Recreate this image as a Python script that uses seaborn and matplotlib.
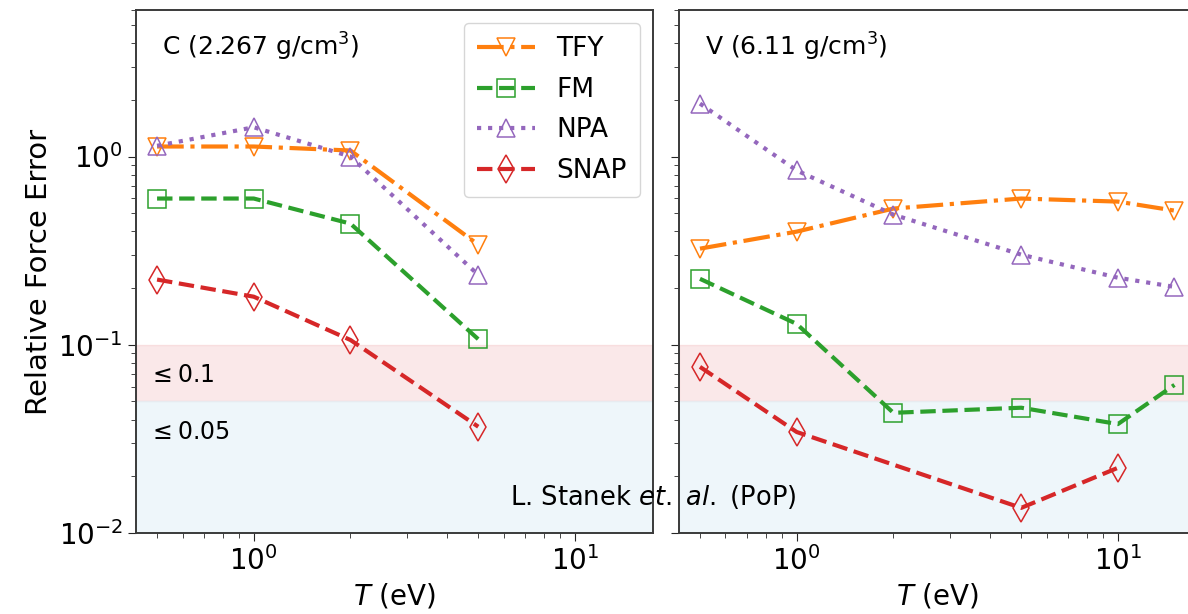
import matplotlib
matplotlib.use("Agg")
import matplotlib.pyplot as plt
import numpy as np
import pandas as pd
import seaborn as sns

sns.set_style("ticks")
plt.rcParams["font.family"] = ["DejaVu Sans"]
plt.rcParams["mathtext.fontset"] = "dejavusans"
plt.rcParams["text.color"] = "black"
plt.rcParams["axes.labelcolor"] = "black"
plt.rcParams["xtick.labelcolor"] = "black"
plt.rcParams["ytick.labelcolor"] = "black"
plt.rcParams["axes.edgecolor"] = "#3a3a3a"
plt.rcParams["axes.linewidth"] = 1.4

# ---- data ----
methods = ["TFY", "FM", "NPA", "SNAP"]

c_T = [0.5, 1.0, 2.0, 5.0]
c_tfy = [1.13, 1.13, 1.076, 0.34]
c_fm = [0.598, 0.598, 0.44, 0.107]
c_npa = [1.14, 1.43, 1.0, 0.235]
c_snap = [0.222, 0.18, 0.106, 0.0367]

v_T = [0.5, 1.0, 2.0, 5.0, 10.0, 15.0]
v_tfy = [0.324, 0.399, 0.529, 0.598, 0.576, 0.516]
v_fm = [0.224, 0.129, 0.0435, 0.0463, 0.0379, 0.0612]
v_npa = [1.91, 0.843, 0.491, 0.301, 0.227, 0.203]
v_snap_T = [0.5, 1.0, 5.0, 10.0]
v_snap = [0.0763, 0.0344, 0.0136, 0.0222]

panel_titles = ["C (2.267 g/cm$^3$)", "V (6.11 g/cm$^3$)"]

# ---- styles ----
styles = {
    "TFY": dict(color="tab:orange", ls="-.", marker="v"),
    "FM": dict(color="tab:green", ls="--", marker="s"),
    "NPA": dict(color="tab:purple", ls=":", marker="^"),
    "SNAP": dict(color="tab:red", ls="--", marker="d"),
}

c_data = {"TFY": (c_T, c_tfy), "FM": (c_T, c_fm), "NPA": (c_T, c_npa), "SNAP": (c_T, c_snap)}
v_data = {"TFY": (v_T, v_tfy), "FM": (v_T, v_fm), "NPA": (v_T, v_npa), "SNAP": (v_snap_T, v_snap)}

fig = plt.figure(figsize=(11.88, 6.14), dpi=100)
ax_c = fig.add_axes([0.1145, 0.1319, 0.4352, 0.8518])
ax_v = fig.add_axes([0.5715, 0.1319, 0.4352, 0.8518], sharey=ax_c)

for ax, data, title in [(ax_c, c_data, panel_titles[0]), (ax_v, v_data, panel_titles[1])]:
    ax.axhspan(0.05, 0.1, color="tab:red", alpha=0.1, zorder=0)
    ax.axhspan(0.001, 0.05, color="#e3f1f7", alpha=0.6, zorder=0)
    for m in methods:
        x, y = data[m]
        df = pd.DataFrame({"T": x, "err": y})
        st = styles[m]
        sns.lineplot(data=df, x="T", y="err", ax=ax, color=st["color"],
                     linestyle=st["ls"], linewidth=3, marker=st["marker"],
                     markersize=13 if m != "SNAP" else 14, markerfacecolor="none",
                     markeredgecolor=st["color"], markeredgewidth=1.1, label=m,
                     legend=False)
    ax.set_xscale("log")
    ax.set_yscale("log")
    ax.set_xlim(0.43, 17.5)
    ax.set_ylim(0.01, 6.0)
    ax.set_xlabel("$T$ (eV)", fontsize=20)
    ax.tick_params(axis="both", which="major", labelsize=20, length=6)
    ax.tick_params(axis="both", which="minor", length=3.5)
    ax.text(0.05, 0.93, title, transform=ax.transAxes, fontsize=18, va="center")

ax_c.set_ylabel("Relative Force Error", fontsize=21)
ax_v.set_ylabel("")
ax_v.tick_params(axis="y", which="both", labelleft=False)

ax_c.text(0.47, 0.069, r"$\leq$0.1", fontsize=17, va="center")
ax_c.text(0.47, 0.0344, r"$\leq$0.05", fontsize=17, va="center")

ax_c.legend(loc="upper right", fontsize=19, handlelength=2.2, borderpad=0.5,
            labelspacing=0.55)

fig.text(0.55, 0.19, "L. Stanek $et.$ $al.$ (PoP)", fontsize=18.5, ha="center",
         va="center", zorder=10)

fig.savefig("out.png", dpi=100)
